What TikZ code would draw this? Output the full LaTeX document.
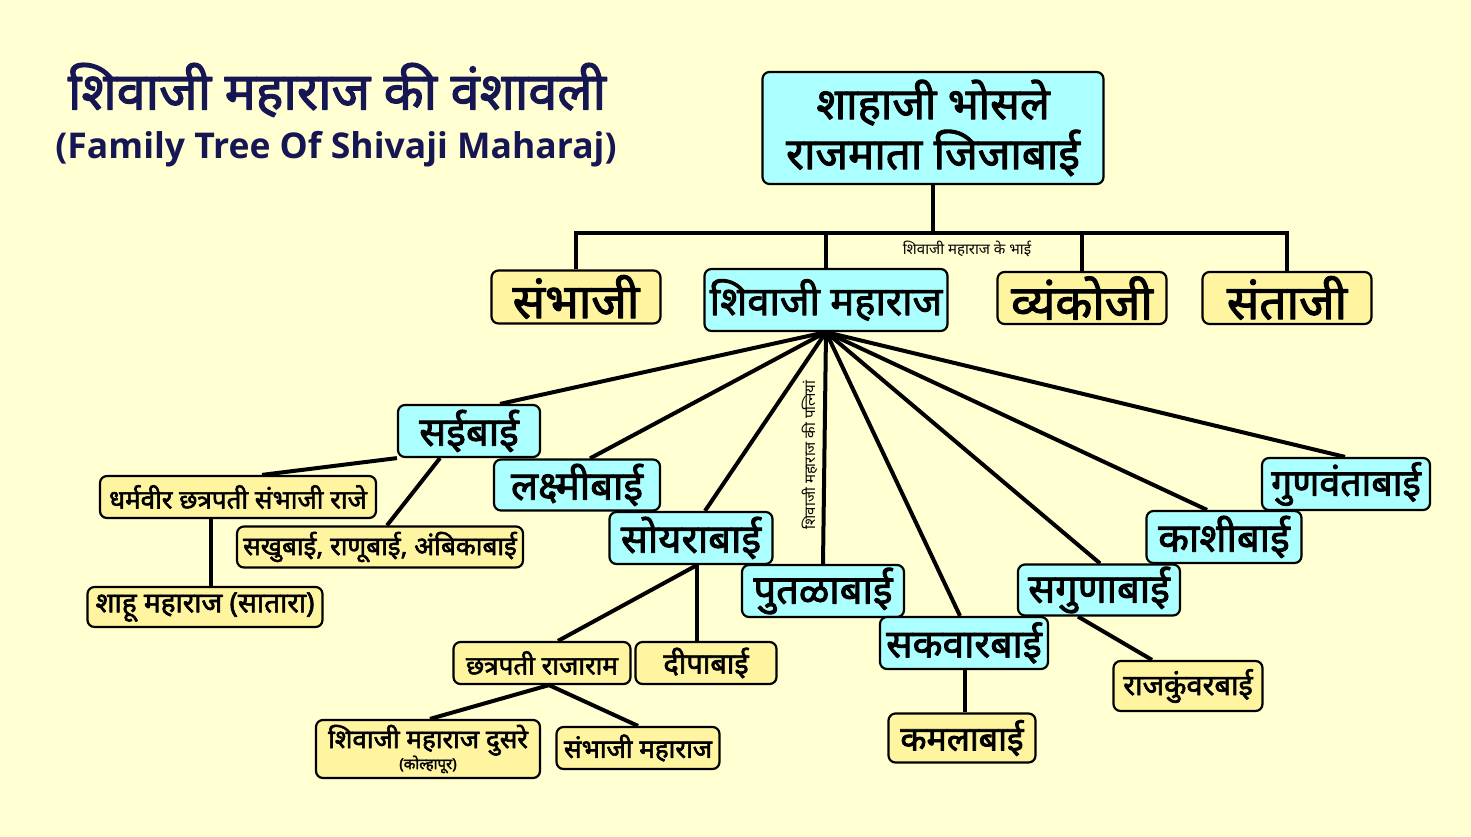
\documentclass[tikz,border=0pt]{standalone}
\usepackage{fontspec}
\newfontfamily\deva[Script=Devanagari,BoldFont={Noto Sans},BoldFeatures={FakeBold=2.2}]{Noto Sans}
\newfontfamily\engfont{Open Sans}
\usetikzlibrary{backgrounds,calc}
\definecolor{bgyel}{RGB}{255,255,210}
\definecolor{boxblue}{RGB}{172,255,255}
\definecolor{boxylw}{RGB}{255,244,160}
\definecolor{titleblue}{RGB}{22,22,82}
\newcommand{\fbig}{\deva\bfseries\fontsize{48}{50}\selectfont}
\newcommand{\fmid}{\deva\bfseries\fontsize{40}{44}\selectfont}
\newcommand{\fsml}{\deva\bfseries\fontsize{26}{30}\selectfont}
\newcommand{\ftiny}{\deva\fontsize{15}{18}\selectfont}
\tikzset{
  box/.style={draw, line width=2.2pt, rounded corners=7pt, inner sep=0pt, align=center},
  bluebox/.style={box, fill=boxblue},
  ylwbox/.style={box, fill=boxylw},
  link/.style={line width=4pt},
}

\begin{document}
\begin{tikzpicture}[x=1pt,y=-1pt,line join=round,line cap=round]
\useasboundingbox (0,0) rectangle (1471,837);
% title
\node[titleblue,font=\deva\bfseries\fontsize{52}{56}\selectfont] (title) at (337,90) {शिवाजी महाराज की वंशावली};
\node[titleblue,font=\engfont\bfseries\fontsize{35.5}{40}\selectfont] (subtitle) at (336,149) {(Family Tree Of Shivaji Maharaj)};
% parents and brothers
\node[bluebox,minimum width=341pt,minimum height=112pt,font=\deva\bfseries\fontsize{44}{50}\selectfont] (top) at (933,128) {शाहाजी भोसले\\राजमाता जिजाबाई};
\coordinate (bar) at (933,233);
\node[ylwbox,minimum width=169pt,minimum height=53pt,font=\fbig] (sambh) at (576,297) {संभाजी};
\node[bluebox,minimum width=243pt,minimum height=62pt,font=\deva\bfseries\fontsize{40}{44}\selectfont] (shiv) at (826,300) {शिवाजी महाराज};
\node[ylwbox,minimum width=169pt,minimum height=52pt,font=\fbig] (vyank) at (1082,298) {व्यंकोजी};
\node[ylwbox,minimum width=169pt,minimum height=52pt,font=\fbig] (sant) at (1287,298) {संताजी};
\node[font=\ftiny] (bhai) at (967,249) {शिवाजी महाराज के भाई};
% wives
\node[bluebox,minimum width=142pt,minimum height=52pt,font=\fmid] (sai) at (469,431) {सईबाई};
\node[bluebox,minimum width=166pt,minimum height=51pt,font=\fmid] (lak) at (577,485) {लक्ष्मीबाई};
\node[bluebox,minimum width=163pt,minimum height=52pt,font=\fmid] (soy) at (691,538) {सोयराबाई};
\node[bluebox,minimum width=162pt,minimum height=52pt,font=\fmid] (put) at (823,591) {पुतळाबाई};
\node[bluebox,minimum width=168pt,minimum height=52pt,font=\deva\bfseries\fontsize{39}{44}\selectfont] (sak) at (964,643) {सकवारबाई};
\node[bluebox,minimum width=162pt,minimum height=51pt,font=\fmid] (sag) at (1099,590) {सगुणाबाई};
\node[bluebox,minimum width=155pt,minimum height=52pt,font=\fmid] (kas) at (1224,537) {काशीबाई};
\node[bluebox,minimum width=168pt,minimum height=52pt,font=\deva\bfseries\fontsize{37.5}{44}\selectfont] (gun) at (1346,484) {गुणवंताबाई};
\node[font=\ftiny,rotate=90] (patni) at (810,455) {शिवाजी महाराज की पत्नियां};
% children
\node[ylwbox,minimum width=276pt,minimum height=42pt,font=\fsml] (dharm) at (238,497) {धर्मवीर छत्रपती संभाजी राजे};
\node[ylwbox,minimum width=286pt,minimum height=41pt,font=\fsml] (sakhu) at (380,547) {सखुबाई, राणूबाई, अंबिकाबाई};
\node[ylwbox,minimum width=235pt,minimum height=40pt,font=\deva\bfseries\fontsize{28}{30}\selectfont] (shahu) at (205,607) {शाहू महाराज (सातारा)};
\node[ylwbox,minimum width=177pt,minimum height=42pt,font=\fsml] (raja) at (542,663) {छत्रपती राजाराम};
\node[ylwbox,minimum width=141pt,minimum height=42pt,font=\deva\bfseries\fontsize{29}{32}\selectfont] (deep) at (706,663) {दीपाबाई};
\node[ylwbox,minimum width=224pt,minimum height=58pt,font=\fsml] (shivb) at (428,749) {शिवाजी महाराज दुसरे\\[-9pt]{\ftiny (कोल्हापूर)}};
\node[ylwbox,minimum width=163pt,minimum height=42pt,font=\fsml] (sambb) at (638,748) {संभाजी महाराज};
\node[ylwbox,minimum width=147pt,minimum height=49pt,font=\deva\bfseries\fontsize{34}{40}\selectfont] (kamal) at (962,738) {कमलाबाई};
\node[ylwbox,minimum width=149pt,minimum height=50pt,font=\deva\bfseries\fontsize{29}{32}\selectfont] (rajk) at (1188,686) {राजकुंवरबाई};
% connectors
\begin{scope}[on background layer]
\fill[bgyel] (0,0) rectangle (1471,837);
\draw[link] (top.south) -- (bar);
\foreach \b in {sambh,shiv,vyank,sant}{\draw[link] (\b.north) |- (bar);}
\foreach \w/\dx in {sai/31,lak/13,soy/14,put/0,sak/-4,sag/1,kas/-17,gun/-1}{\draw[link] (shiv.south) -- ([xshift=\dx pt]\w.north);}
\draw[link] (sai.south west) -- ([xshift=24pt]dharm.north);
\draw[link] ([xshift=-29pt]sai.south) -- ([xshift=7pt]sakhu.north);
\draw[link] ([xshift=-27pt]dharm.south) -- ([xshift=6pt]shahu.north);
\draw[link] ([xshift=6pt]soy.south) -- ([xshift=16pt]raja.north);
\draw[link] ([xshift=6pt]soy.south) -- ([xshift=-9pt]deep.north);
\draw[link] ([xshift=7pt]raja.south) -- ([xshift=2pt]shivb.north);
\draw[link] ([xshift=7pt]raja.south) -- (sambb.north);
\draw[link] ([xshift=1pt]sak.south) -- ([xshift=3pt]kamal.north);
\draw[link] ([xshift=-21pt]sag.south) -- ([xshift=-36pt]rajk.north);
\end{scope}
\end{tikzpicture}
\end{document}
